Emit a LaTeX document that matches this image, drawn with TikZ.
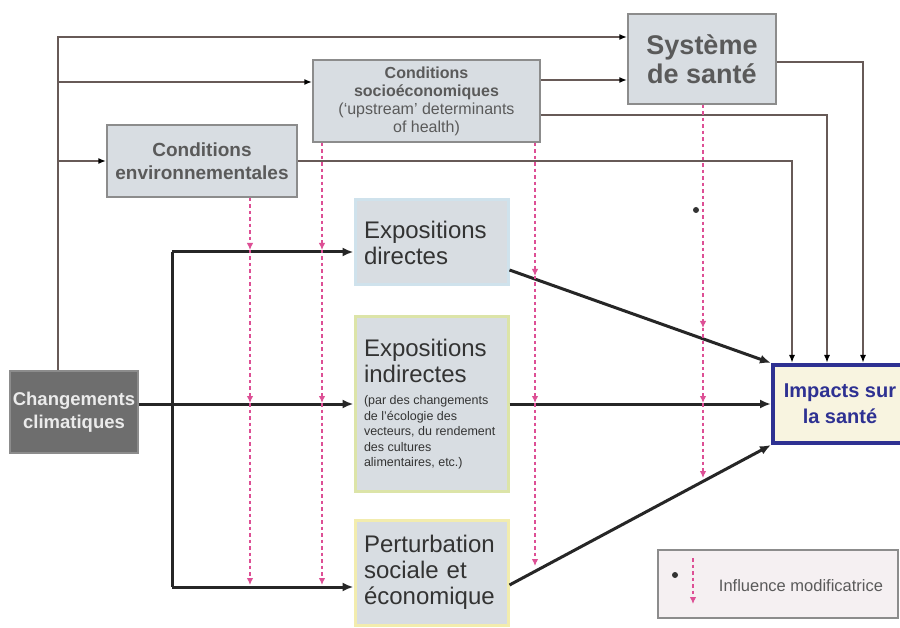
\documentclass[tikz,border=0pt]{standalone}
\usepackage{fontspec}
\setmainfont{Liberation Sans}
\usetikzlibrary{arrows.meta}

\definecolor{boxfill}{HTML}{D8DDE2}
\definecolor{boxedge}{HTML}{8C8C8C}
\definecolor{linebrown}{HTML}{675A57}
\definecolor{inflpink}{HTML}{DD4F95}
\definecolor{impblue}{HTML}{2E3192}
\definecolor{impfill}{HTML}{F8F4E0}
\definecolor{climgray}{HTML}{6E6E6E}
\definecolor{diredge}{HTML}{CFE2EC}
\definecolor{indedge}{HTML}{DCE4A8}
\definecolor{pertedge}{HTML}{F2ECAE}
\definecolor{legfill}{HTML}{F5F0F2}
\definecolor{greytext}{HTML}{5A5A5A}

\begin{document}
\begin{tikzpicture}[x=1pt, y=-1pt,
    condbox/.style={draw=boxedge, line width=1.5pt, fill=boxfill, text=greytext,
      align=center, font=\bfseries, inner sep=0pt},
    expobox/.style={fill=boxfill, line width=3pt, text=black!80, align=left,
      text width=135pt, minimum width=153pt, inner xsep=9pt, inner ysep=0pt,
      font=\fontsize{24}{26}\selectfont},
    feed/.style={draw=linebrown, line width=1.8pt, -{Latex[length=8pt,width=6pt,color=black]}},
    main/.style={draw=black!85, line width=3pt, -{Latex[length=11pt,width=9pt]}},
    infl/.style={draw=inflpink, line width=1.2pt, dash pattern=on 3.5pt off 3pt,
      -{Latex[length=7pt,width=6.5pt]}}]

  \useasboundingbox (0,0) rectangle (900,628);
  \fill[white] (0,0) rectangle (900,628);

  \node[condbox, draw=boxedge, fill=climgray, text=white!92!black, minimum width=128pt,
    minimum height=82pt, font=\fontsize{18.5}{23}\selectfont\bfseries] (chg) at (74,412)
    {Changements\\climatiques};
  \node[condbox, minimum width=190pt, minimum height=72pt,
    font=\fontsize{19}{23}\selectfont\bfseries] (env) at (202,161)
    {Conditions\\environnementales};
  \node[condbox, minimum width=227pt, minimum height=82pt,
    font=\fontsize{16}{18}\selectfont\bfseries] (socio) at (426.5,101)
    {Conditions\\socioéconomiques\\{\mdseries (‘upstream’ determinants}\\{\mdseries of health)}};
  \node[condbox, minimum width=148pt, minimum height=90pt,
    font=\fontsize{27}{29}\selectfont\bfseries] (sys) at (702,59)
    {Système\\de santé};

  \node[expobox, draw=diredge, minimum height=85pt] (dir) at (431.5,242.5)
    {Expositions\\directes};
  \node[expobox, draw=indedge, minimum height=175pt] (ind) at (431.5,404)
    {Expositions\\indirectes\par\vspace{7pt}%
    {\fontsize{12.5}{15.5}\selectfont\spaceskip=0pt\xspaceskip=0pt
    (par des changements\par de l'écologie des\par vecteurs, du rendement\par
    des cultures\par alimentaires, etc.)\par}};
  \node[expobox, draw=pertedge, minimum height=105pt] (pert) at (431.5,572.5)
    {Perturbation\\sociale et\\économique};

  \node[draw=impblue, line width=4pt, fill=impfill, text=impblue, align=center,
    minimum width=134pt, minimum height=78pt, inner sep=0pt,
    font=\fontsize{20}{26}\selectfont\bfseries] (imp) at (840,404)
    {Impacts sur\\la santé};

  \coordinate (tl) at (58,37);
  \coordinate (t2) at (58,82);
  \draw[feed] (chg.north -| tl) -- (tl) -- (tl -| sys.west);
  \draw[feed] (t2) -- (t2 -| socio.west);
  \draw[feed] (env.west -| tl) -- (env.west);
  \draw[feed] (socio.east |- 0,80) -- (sys.west |- 0,80);
  \draw[feed] (socio.east |- 0,115) -- (827,115) -- (imp.north -| 827,0);
  \draw[feed] (env.east) -- (792,161) -- (imp.north -| 792,0);
  \draw[feed] (sys.east |- 0,62) -- (863,62) -- (imp.north -| 863,0);

  \coordinate (j1) at (172,252);
  \coordinate (j2) at (172,587);
  \draw[main] (chg.east |- ind.west) -- (ind.west);
  \draw[main, -] (j1) -- (j2);
  \draw[main] (j1) -- (j1 -| dir.west);
  \draw[main] (j2) -- (j2 -| pert.west);
  \draw[main] ([yshift=-27.5pt]dir.east) -- (imp.north west);
  \draw[main] (ind.east) -- (imp.west);
  \draw[main] ([yshift=-12.5pt]pert.east) -- (imp.south west);

  \foreach \n/\x/\a/\b/\c in {env/250/250/403/585, socio/322/250/403/585,
      socio/535/276/403/566, sys/703/328/403/478} {
    \draw[infl] (\n.south -| \x,0) -- (\x,\a);
    \draw[infl] (\x,\a) -- (\x,\b);
    \draw[infl] (\x,\b) -- (\x,\c);
  }
  \fill[black!80] (696,210) circle (3);

  \node[draw=boxedge, line width=1.5pt, fill=legfill, minimum width=240pt,
    minimum height=68pt] (leg) at (778,584) {};
  \node[text=greytext, font=\fontsize{16.5}{18}\selectfont] (legtxt) at (801,586)
    {Influence modificatrice};
  \fill[black!80] (675,575) circle (3);
  \coordinate (ls) at (693,558);
  \coordinate (le) at (693,604);
  \draw[infl] (ls) -- (le);
\end{tikzpicture}
\end{document}
